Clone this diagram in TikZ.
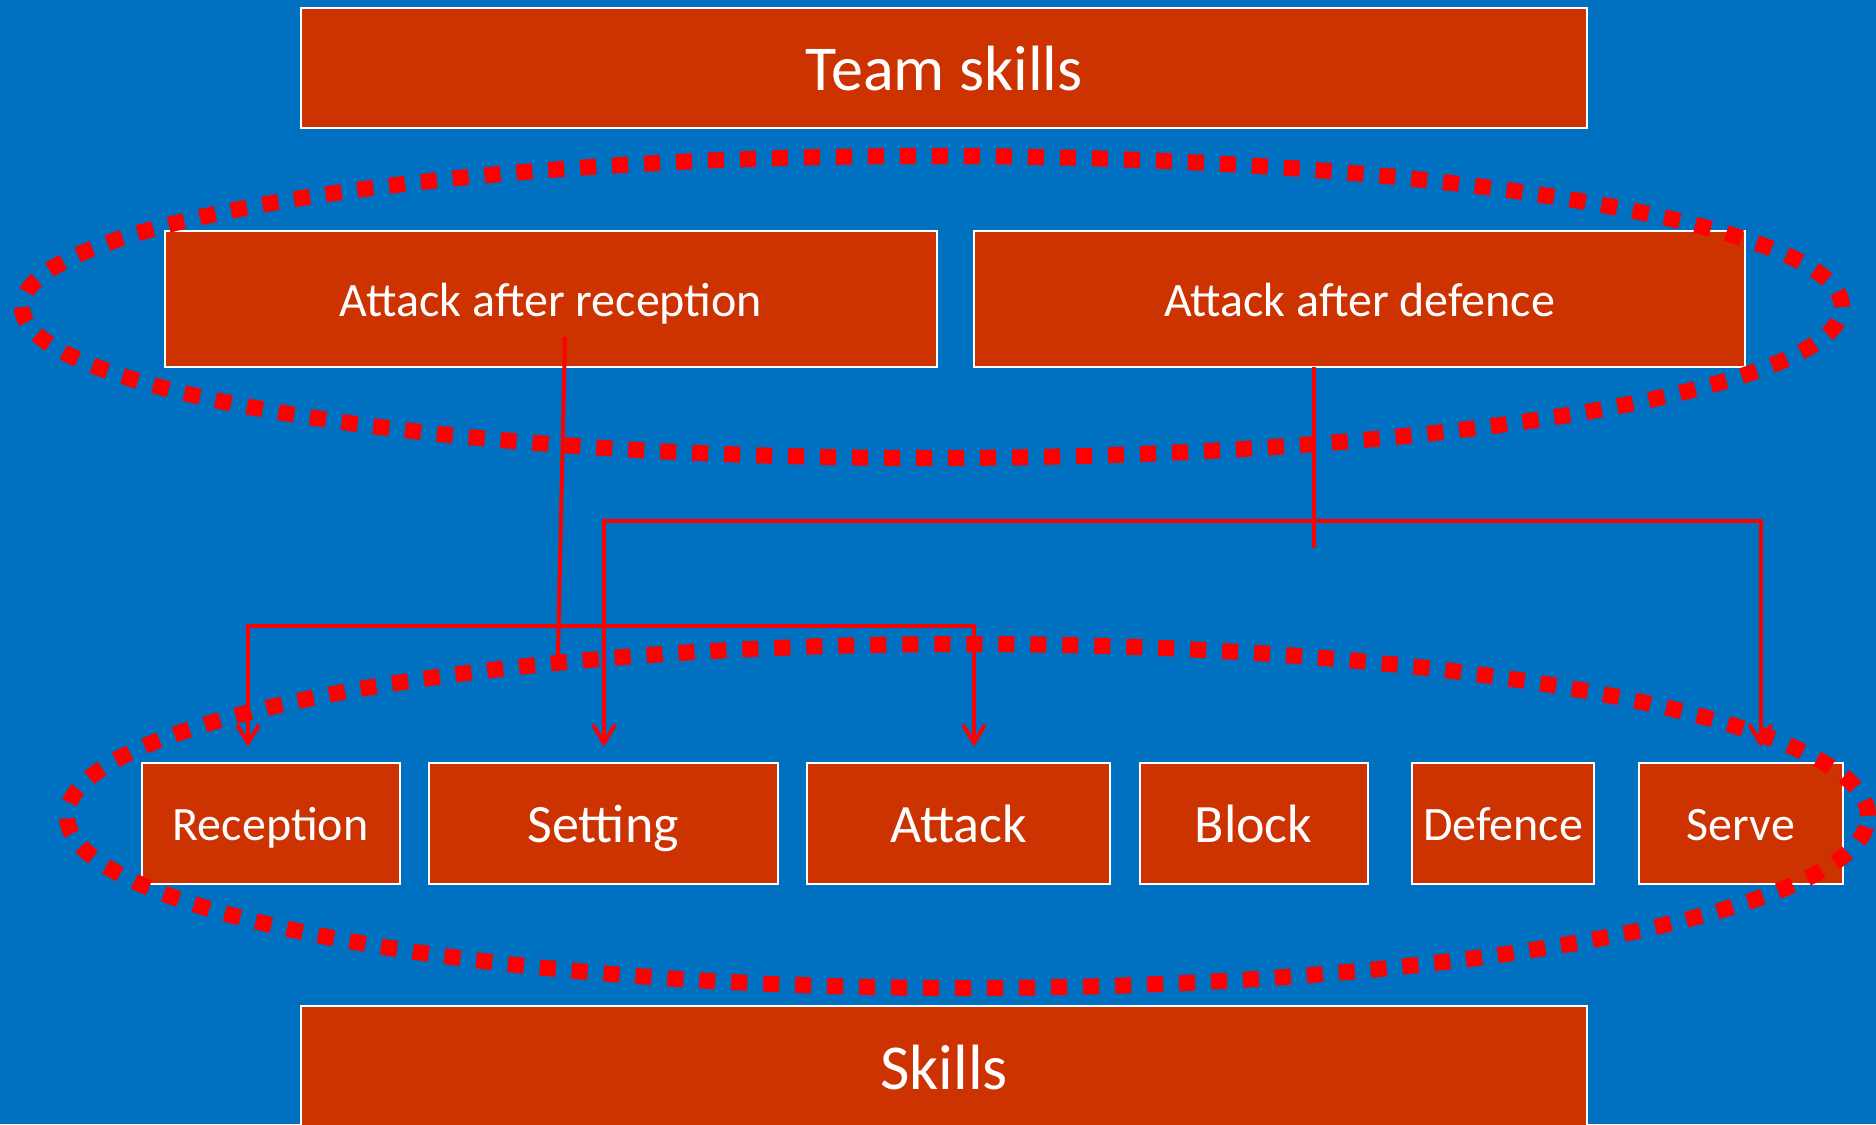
\documentclass[tikz,border=0pt]{standalone}
\usepackage{fontspec}
\setmainfont{Carlito}
\usetikzlibrary{arrows.meta}
\definecolor{bg}{HTML}{0070C0}
\definecolor{boxred}{HTML}{CC3300}
\definecolor{linered}{HTML}{FF0000}
\begin{document}
\begin{tikzpicture}[x=1pt,y=1pt,
  box/.style={draw=white, line width=2pt, fill=boxred, text=white, inner sep=0pt, anchor=center},
  bigtxt/.style={font=\fontsize{64}{72}\selectfont, text height=45pt, text depth=0pt},
  midtxt/.style={font=\fontsize{54}{60}\selectfont, text height=39pt, text depth=0pt},
  smalltxt/.style={font=\fontsize{48}{54}\selectfont, text height=35pt, text depth=0pt},
  dots/.style={draw=linered, line width=16pt, dash pattern=on 16pt off 16pt},
  conn/.style={draw=linered, line width=4pt},
  arrowboth/.style={{Straight Barb[length=18pt,width=22pt]}-{Straight Barb[length=18pt,width=22pt]}}
]
\useasboundingbox (0,0) rectangle (1876,-1124);
\fill[bg] (0,0) rectangle (1876,-1124);

% boxes
\node[box,bigtxt,minimum width=1286pt,minimum height=120pt] (team) at (944,-68) {Team skills};
\node[box,smalltxt,minimum width=772pt,minimum height=136pt] (aar) at (551,-299) {Attack after reception};
\node[box,smalltxt,minimum width=771pt,minimum height=136pt] (aad) at (1359.5,-299) {Attack after defence};
\node[box,smalltxt,minimum width=258pt,minimum height=121pt] (reception) at (270.5,-823) {Reception};
\node[box,midtxt,minimum width=348.5pt,minimum height=121pt] (setting) at (603.25,-823) {Setting};
\node[box,midtxt,minimum width=303pt,minimum height=121pt] (attack) at (958.5,-823) {Attack};
\node[box,midtxt,minimum width=228pt,minimum height=121pt] (block) at (1253.5,-823) {Block};
\node[box,smalltxt,minimum width=182pt,minimum height=121pt] (defence) at (1503,-823) {Defence};
\node[box,smalltxt,minimum width=204.5pt,minimum height=121pt] (serve) at (1740.75,-823) {Serve};
\node[box,bigtxt,minimum width=1286pt,minimum height=121pt] (skills) at (944,-1066.5) {Skills};

% dotted ellipses
\draw[dots] (932,-307) ellipse [x radius=910, y radius=151];
\draw[dots] (967.5,-816) ellipse [x radius=900.5, y radius=172];

% connectors
\coordinate (r1) at (565,-337);
\coordinate (r2) at (558,-655);
\coordinate (lowbar) at (558,-626);
\coordinate (recTip) at (248,-746.7);
\coordinate (attTip) at (974,-746.7);
\draw[conn] (r1) -- (r2);
\draw[conn,arrowboth] (recTip) |- (lowbar) -| (attTip);

\coordinate (d1) at (1314,-367);
\coordinate (d2) at (1314,-548);
\coordinate (upbar) at (1314,-521);
\coordinate (setTip) at (604,-746.7);
\coordinate (servTip) at (1760.5,-746.7);
\draw[conn] (d1) -- (d2);
\draw[conn,arrowboth] (setTip) |- (upbar) -| (servTip);
\end{tikzpicture}
\end{document}
